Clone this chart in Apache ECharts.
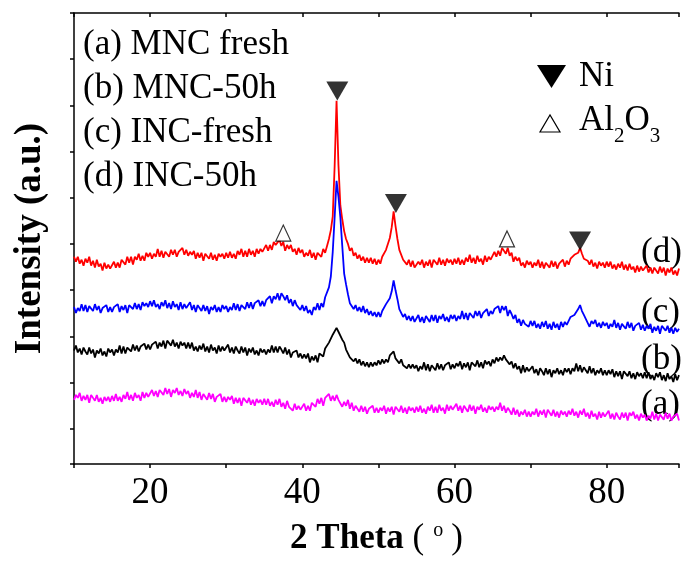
<!DOCTYPE html>
<html>
<head>
<meta charset="utf-8">
<title>XRD patterns</title>
<script src="https://cdn.jsdelivr.net/npm/echarts@6/dist/echarts.min.js"></script>
<style>
  html, body { margin: 0; padding: 0; background: #fff; }
  #chart { width: 682px; height: 561px; }
</style>
</head>
<body>
<div id="chart"></div>
<script>
// 2 theta sampling (deg), one point every 0.25
const theta = [];
for (let t = 10; t <= 89.5; t += 0.25) theta.push(t);

// intensities (a.u.), patterns stacked with an offset
// one row = 5 deg
const incUsed = [ // (d) INC-50h, red
  210,205,210,203,207,201,208,204,210,201,206,199,207,200,203,196,204,198,202,198,
  198,205,199,204,199,207,205,202,210,204,210,202,210,207,213,206,211,206,214,210,
  214,208,213,210,218,210,216,209,215,213,210,217,212,217,210,215,214,219,212,217,
  211,215,212,216,208,214,209,214,206,213,211,208,214,207,212,206,213,210,213,208,
  214,209,215,209,213,208,216,212,218,210,216,210,218,212,216,210,218,213,218,215,
  215,222,216,222,217,225,222,220,227,221,225,216,222,218,222,215,218,212,219,214,
  217,210,214,211,217,209,214,207,214,212,210,218,214,221,228,237,251,302,368,303,
  262,248,236,228,223,216,219,211,214,208,212,206,210,204,209,204,209,203,208,202,
  207,203,210,209,217,219,229,240,256,241,228,217,215,207,209,202,207,200,206,199,
  200,205,202,207,199,205,201,207,199,207,205,202,209,202,207,201,208,204,207,202,
  208,203,209,202,207,202,209,205,212,204,209,203,211,205,208,202,211,205,210,207,
  208,215,210,216,211,219,217,213,219,211,214,205,210,206,209,201,204,199,206,202,
  205,199,204,201,207,199,205,198,204,202,199,206,200,205,198,203,202,207,200,206,
  202,208,207,212,211,214,219,213,208,208,206,202,207,200,204,198,205,201,204,199,
  205,200,205,198,202,197,203,199,205,197,202,196,203,197,200,194,201,195,200,196,
  195,201,194,199,193,199,196,193,200,194,199,191,198,194,199,192,196,191,198
];
const incFresh = [ // (c) INC-fresh, blue
  159,153,158,155,162,155,161,154,160,158,155,162,156,160,153,158,156,161,154,159,
  154,159,157,162,154,160,156,161,153,161,159,157,163,157,162,156,164,160,163,159,
  165,160,166,159,162,157,164,160,166,158,163,157,165,159,162,156,164,157,162,158,
  158,164,156,161,154,161,158,155,161,155,160,152,159,156,161,154,159,154,161,157,
  160,154,159,156,163,156,162,155,161,159,157,164,158,164,157,163,161,166,160,165,
  160,166,164,170,163,170,167,173,166,173,170,166,171,163,167,160,166,161,162,156,
  161,155,160,153,156,151,159,156,163,156,163,159,169,170,179,190,215,250,287,271,
  250,221,193,182,172,163,165,157,161,155,159,154,160,153,157,151,155,150,154,149,
  154,149,155,155,162,162,168,175,186,176,167,157,155,149,152,146,150,145,150,144,
  145,151,144,149,143,150,147,144,151,145,151,143,150,147,152,145,149,144,151,147,
  151,145,150,147,155,147,153,146,153,151,148,155,150,155,148,153,152,157,150,155,
  152,157,155,160,153,160,156,160,150,156,152,147,151,143,147,140,146,142,144,139,
  145,140,145,138,142,137,144,139,145,137,142,136,144,138,142,136,144,139,144,141,
  143,149,147,151,153,157,161,155,151,147,148,139,145,142,146,139,143,138,144,140,
  143,137,142,139,146,138,143,136,142,140,137,144,138,143,135,140,138,143,136,141,
  135,140,137,142,133,139,135,140,132,140,138,135,140,133,138,132,138,134,137
];
const mncUsed = [ // (b) MNC-50h, black
  115,120,113,117,111,118,114,111,118,112,116,108,115,112,117,110,114,109,117,113,
  116,110,116,113,120,112,119,112,118,116,114,121,115,120,114,119,117,122,116,121,
  116,121,119,124,117,123,119,125,117,125,123,120,126,119,123,117,124,120,123,117,
  123,117,123,115,119,114,120,116,122,114,119,113,121,115,118,112,120,114,119,115,
  115,121,113,118,112,119,115,112,119,113,118,110,117,113,118,111,115,110,117,113,
  116,111,116,113,120,113,119,113,119,116,112,118,111,116,108,113,111,115,108,112,
  107,111,107,112,103,109,105,110,103,112,111,109,117,116,123,125,131,133,138,134,
  133,126,123,116,114,108,110,104,107,102,106,100,104,99,103,98,103,99,103,100,
  105,101,106,102,106,103,110,109,114,107,109,102,106,100,102,97,101,97,101,97,
  100,94,99,96,103,95,101,94,100,98,95,102,96,101,95,100,98,103,96,101,
  97,102,99,104,96,102,98,103,95,103,101,99,105,98,103,97,105,101,104,99,
  106,102,108,104,108,105,110,106,108,101,104,97,102,96,99,92,100,93,98,94,
  93,99,92,96,90,97,94,90,97,91,96,88,95,92,97,91,95,90,97,93,
  97,91,97,94,102,94,100,93,98,96,92,99,92,97,90,95,92,97,90,95,
  90,95,91,96,88,94,89,94,86,94,92,89,94,87,92,86,93,89,92,87,
  93,87,93,86,90,85,92,88,93,85,90,84,92,86,89,83,91,85,90
];
const mncFresh = [ // (a) MNC fresh, magenta
  65,70,67,72,64,69,65,70,62,70,67,64,70,63,67,61,68,64,68,63,
  69,64,71,64,68,63,70,66,73,65,70,64,72,67,70,64,73,67,72,68,
  69,75,69,74,68,75,73,70,77,71,76,68,75,72,77,70,74,69,76,71,
  74,67,72,68,75,67,73,65,71,69,65,72,66,71,63,68,66,71,63,68,
  63,68,65,69,61,67,62,67,59,67,65,62,67,60,65,59,66,62,65,60,
  66,60,66,59,63,58,65,60,66,58,62,56,64,58,60,54,61,55,59,55,
  55,61,54,59,54,62,60,58,66,61,67,59,67,65,71,64,69,64,70,65,
  65,58,63,59,65,56,62,54,59,56,53,59,53,58,51,56,54,59,52,57,
  52,57,54,59,51,57,53,58,50,58,56,53,59,52,57,51,58,54,57,52,
  58,53,59,52,56,51,58,54,60,52,58,52,60,54,57,51,60,54,59,55,
  55,61,54,59,52,59,56,53,60,54,59,51,58,55,60,53,57,52,59,55,
  58,53,58,55,62,54,59,52,57,54,50,57,50,55,48,53,50,55,48,53,
  48,53,50,56,48,54,50,55,47,55,53,49,55,48,53,47,54,50,53,48,
  54,50,56,49,53,47,54,50,56,48,52,46,54,48,51,45,53,47,52,48,
  48,54,46,51,45,52,48,45,52,47,52,44,52,49,53,46,50,44,51,47,
  50,44,49,46,53,45,51,44,50,48,45,52,46,51,44,48,46,51,44
];

// phase markers above the reflections
const niTheta = [44.6, 52.3, 76.5];
const niLevel = [378, 264, 226];
const alTheta = [37.5, 66.9];
const alLevel = [234, 228];

const sampleLabels = ['(a) MNC fresh', '(b) MNC-50h', '(c) INC-fresh', '(d) INC-50h'];
const curveTags = ['(d)', '(c)', '(b)', '(a)'];

const FONT = "'Liberation Serif', 'Times New Roman', serif";

function pairs(xs, ys) {
  return xs.map((x, i) => [x, ys[i]]);
}

function pattern(name, color, vals) {
  return {
    name: name,
    type: 'line',
    data: pairs(theta, vals),
    showSymbol: false,
    symbol: 'none',
    lineStyle: { color: color, width: 1.8 },
    z: 2
  };
}

const chart = echarts.init(document.getElementById('chart'));

const legendText = sampleLabels.map((s, i) => ({
  type: 'text',
  style: {
    text: s, x: 83, y: 45 + i * 44, verticalAlign: 'middle',
    fontSize: 35, fontFamily: FONT, fill: '#000'
  }
}));
const tagY = [253, 313, 360, 405];
const tagText = curveTags.map((s, i) => ({
  type: 'text',
  style: {
    text: s, x: 641, y: tagY[i], verticalAlign: 'middle',
    fontSize: 35, fontFamily: FONT, fill: '#000'
  }
}));

chart.setOption({
  animation: false,
  backgroundColor: '#fff',
  grid: { left: 74, right: 0, top: 13, bottom: 91 },
  xAxis: [{
    type: 'value',
    min: 10,
    max: 89.5,
    interval: 10,
    position: 'bottom',
    axisLine: { lineStyle: { color: '#000', width: 1.5 } },
    axisTick: { inside: false, length: 4, lineStyle: { color: '#000', width: 1.5 } },
    axisLabel: {
      margin: 11,
      fontSize: 37,
      fontFamily: FONT,
      color: '#000',
      formatter: v => (v % 20 === 0 ? String(v) : '')
    },
    splitLine: { show: false },
    name: '{b|2 Theta }{r|(}{u|o}{r|)}',
    nameLocation: 'middle',
    nameGap: 57,
    nameTextStyle: {
      rich: {
        b: { fontSize: 35, fontWeight: 'bold', fontFamily: FONT, color: '#000', lineHeight: 35, verticalAlign: 'top' },
        r: { fontSize: 35, fontFamily: FONT, color: '#000', lineHeight: 35, verticalAlign: 'top' },
        u: { fontSize: 20, fontFamily: FONT, color: '#000', lineHeight: 14, verticalAlign: 'top', padding: [0, 8, 0, 9] }
      }
    }
  }, {
    type: 'value',
    min: 10,
    max: 89.5,
    interval: 10,
    position: 'top',
    axisLine: { show: true, lineStyle: { color: '#000', width: 1.5 } },
    axisTick: { inside: true, length: 4, lineStyle: { color: '#000', width: 1.5 } },
    axisLabel: { show: false },
    splitLine: { show: false }
  }],
  yAxis: [{
    type: 'value',
    min: 0,
    max: 457,
    position: 'left',
    axisLine: { show: true, lineStyle: { color: '#000', width: 1.5 } },
    axisTick: { show: false },
    axisLabel: { show: false },
    splitLine: { show: false },
    name: 'Intensity (a.u.)',
    nameLocation: 'middle',
    nameGap: 25,
    nameTextStyle: { fontSize: 37, fontWeight: 'bold', fontFamily: FONT, color: '#000' }
  }, {
    // tick marks only, counted down from the top frame
    type: 'value',
    inverse: true,
    min: 0,
    max: 9.765,
    interval: 1,
    position: 'left',
    axisLine: { show: false },
    axisTick: { show: true, inside: false, length: 4, lineStyle: { color: '#000', width: 1.5 } },
    axisLabel: { show: false },
    splitLine: { show: false }
  }],
  series: [
    pattern('INC-50h', '#ff0000', incUsed),
    pattern('INC-fresh', '#0000ff', incFresh),
    pattern('MNC-50h', '#000000', mncUsed),
    pattern('MNC fresh', '#ff00ff', mncFresh),
    {
      name: 'Ni',
      type: 'scatter',
      data: pairs(niTheta, niLevel),
      symbol: 'triangle',
      symbolRotate: 180,
      symbolSize: [22, 19],
      itemStyle: { color: '#000' },
      z: 5
    },
    {
      name: 'Al2O3',
      type: 'scatter',
      data: pairs(alTheta, alLevel),
      symbol: 'triangle',
      symbolSize: [15, 16],
      itemStyle: { color: '#fff', borderColor: '#000', borderWidth: 1.2 },
      z: 5
    }
  ],
  graphic: legendText.concat(tagText, [
    {
      type: 'polygon',
      shape: { points: [[537, 65], [566, 65], [551.5, 88]] },
      style: { fill: '#000' }
    },
    {
      type: 'text',
      style: { text: 'Ni', x: 579, y: 77, verticalAlign: 'middle', fontSize: 35, fontFamily: FONT, fill: '#000' }
    },
    {
      type: 'polygon',
      shape: { points: [[540, 132], [560, 132], [550, 115]] },
      style: { fill: '#fff', stroke: '#000', lineWidth: 1.2 }
    },
    {
      type: 'text',
      style: {
        text: '{m|Al}{s|2}{m|O}{s|3}',
        x: 579, y: 103, verticalAlign: 'top',
        rich: {
          m: { fontSize: 35, fontFamily: FONT, fill: '#000', lineHeight: 34, verticalAlign: 'top' },
          s: { fontSize: 21, fontFamily: FONT, fill: '#000', lineHeight: 44, verticalAlign: 'bottom' }
        }
      }
    }
  ])
});
</script>
</body>
</html>
